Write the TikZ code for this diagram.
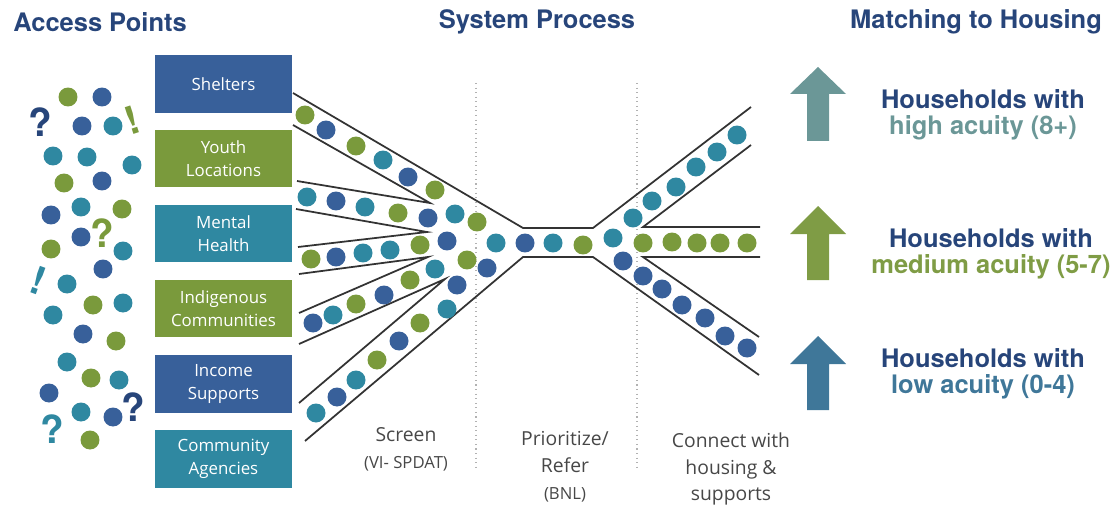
\documentclass[tikz,border=0pt]{standalone}
\usepackage{fontspec}
\setmainfont{Open Sans}
\newfontfamily\headfont{TeX Gyre Heros}
\usetikzlibrary{calc}
\definecolor{apblue}{HTML}{38609A}
\definecolor{apgreen}{HTML}{7A9A3C}
\definecolor{apteal}{HTML}{2F88A1}
\definecolor{apnavy}{HTML}{27457A}
\definecolor{highcol}{HTML}{6B9797}
\definecolor{medcol}{HTML}{7F9C45}
\definecolor{lowcol}{HTML}{3F7799}
\definecolor{lblgray}{HTML}{474747}
\def\ball[#1](#2){\fill[#1] (#2) circle[radius=0.19cm];}
\tikzset{
  accessbox/.style={minimum width=2.74cm, minimum height=1.16cm, inner sep=0pt, align=center, text=white, font=\fontsize{9.6}{13}\selectfont},
  head/.style={font=\headfont\bfseries\fontsize{14.5}{15}\selectfont, text=apnavy, inner sep=0pt},
  qmark/.style={font=\headfont\bfseries\fontsize{22}{22}\selectfont, inner sep=0pt},
  pipe/.style={draw=black!80, line width=1pt},
  stagelbl/.style={align=center, text=lblgray, font=\fontsize{11}{15.3}\selectfont, inner sep=0pt},
  outlbl/.style={align=center, font=\headfont\bfseries\fontsize{14.5}{15}\selectfont, inner sep=0pt}
}
\begin{document}
\begin{tikzpicture}[x=0.02cm, y=-0.02cm]
			%%%%% START %%%%%
			\useasboundingbox (0, 0) rectangle (1119, 510);
			
			\node[head] (access) at (100, 22) {Access Points};
			\node[head] (process) at (537, 22) {System Process};
			\node[head] (matching) at (976, 22) {Matching to Housing};
			
			% people waiting
			\ball[apgreen](68, 97) \ball[apblue](102, 97)
			\ball[apblue](82, 126) \ball[apteal](113, 126)
			\ball[apteal](53, 156) \ball[apteal](87, 157) \ball[apteal](132, 165)
			\ball[apgreen](64, 183) \ball[apblue](102, 181)
			\ball[apblue](51, 215) \ball[apteal](81, 207) \ball[apgreen](122, 209)
			\ball[apblue](81, 237) \ball[apgreen](51, 249) \ball[apteal](123, 251)
			\ball[apblue](103, 269) \ball[apteal](67, 284)
			\ball[apgreen](93, 305) \ball[apteal](123, 303) \ball[apteal](53, 315)
			\ball[apblue](83, 334) \ball[apgreen](116, 341)
			\ball[apteal](67, 362) \ball[apgreen](91, 378) \ball[apteal](119, 380)
			\ball[apblue](49, 393) \ball[apteal](81, 412) \ball[apblue](113, 417)
			\ball[apgreen](90, 440)
			
			\node[qmark, text=apnavy] (q1) at (40, 122) {?};
			\node[qmark, text=apgreen, rotate=18] (e1) at (132, 120) {!};
			\node[qmark, text=apgreen] (q2) at (102, 233) {?};
			\node[qmark, text=apteal, rotate=-20] (e2) at (38, 281) {!};
			\node[qmark, text=apnavy] (q3) at (133, 407) {?};
			\node[qmark, text=apteal] (q4) at (52, 429) {?};
			
			% access points
			\node[accessbox, fill=apblue] (shelters) at (223.5, 84) {Shelters};
			\node[accessbox, fill=apgreen] (youth) at (223.5, 158.5) {Youth\\Locations};
			\node[accessbox, fill=apteal] (mental) at (223.5, 233.5) {Mental\\Health};
			\node[accessbox, fill=apgreen] (indigenous) at (223.5, 308.5) {Indigenous\\Communities};
			\node[accessbox, fill=apblue] (income) at (223.5, 384) {Income\\Supports};
			\node[accessbox, fill=apteal] (agencies) at (223.5, 459) {Community\\Agencies};
			
			% stage dividers
			\draw[black!30, dotted, line width=0.6pt] (476, 83) -- (476, 467);
			\draw[black!30, dotted, line width=0.6pt] (637, 83) -- (637, 467);
			
			% funnel
			\draw[pipe] (293, 93) -- (523, 228) -- (593, 228) -- (751, 107);
			\draw[pipe] (293, 125) -- (430, 203) -- (297, 181);
			\draw[pipe] (296, 209) -- (427, 232) -- (298, 247);
			\draw[pipe] (299, 274) -- (428, 257) -- (299, 313);
			\draw[pipe] (299, 344) -- (445, 279) -- (299, 403);
			\draw[pipe] (305, 441) -- (523, 257) -- (593, 257) -- (759, 375);
			\draw[pipe] (751, 145) -- (643, 227) -- (760, 227);
			\draw[pipe] (760, 257) -- (643, 257) -- (759, 337);
			
			\ball[apgreen](305, 115) \ball[apblue](326, 130) \ball[apgreen](356, 146)
			\ball[apteal](383, 160) \ball[apblue](408, 177) \ball[apgreen](435, 190)
			
			\ball[apteal](307, 197) \ball[apblue](336, 201) \ball[apteal](365, 207)
			\ball[apgreen](398, 213) \ball[apblue](428, 218)
			
			\ball[apgreen](311, 259) \ball[apblue](336, 257) \ball[apteal](363, 253)
			\ball[apteal](390, 250) \ball[apgreen](420, 245) \ball[apblue](447, 241)
			
			\ball[apblue](313, 323) \ball[apteal](333, 315) \ball[apgreen](356, 304)
			\ball[apblue](384, 295) \ball[apgreen](410, 280) \ball[apteal](435, 269)
			
			\ball[apteal](316, 413) \ball[apblue](337, 397) \ball[apteal](356, 380)
			\ball[apgreen](377, 360) \ball[apblue](399, 341) \ball[apgreen](420, 323)
			\ball[apteal](447, 309) \ball[apblue](457, 285)
			
			\ball[apteal](455, 214) \ball[apgreen](477, 222) \ball[apgreen](467, 260)
			\ball[apblue](487, 268) \ball[apteal](496, 243) \ball[apblue](525, 243)
			\ball[apteal](553, 243) \ball[apgreen](583, 245)
			
			\ball[apteal](613, 238) \ball[apteal](633, 218) \ball[apteal](652, 201)
			\ball[apteal](676, 187) \ball[apteal](696, 167) \ball[apteal](717, 152)
			\ball[apteal](737, 135)
			
			\ball[apgreen](643, 243) \ball[apgreen](672, 242) \ball[apgreen](697, 243)
			\ball[apgreen](720, 243) \ball[apgreen](747, 243)
			
			\ball[apblue](623, 261) \ball[apblue](643, 276) \ball[apblue](662, 289)
			\ball[apblue](682, 305) \ball[apblue](705, 318) \ball[apblue](725, 336)
			\ball[apblue](747, 348)
			
			% stage labels
			\node[stagelbl] (screen) at (406, 449) {Screen\\\fontsize{9.5}{13}\selectfont (VI- SPDAT)};
			\node[stagelbl] (prioritize) at (565, 467) {Prioritize/\\Refer\\\fontsize{9.5}{13}\selectfont (BNL)};
			\node[stagelbl] (connect) at (731, 469) {Connect with\\housing \&\\supports};
			
			% outcomes
			\fill[highcol] (818, 67) -- (846, 94) -- (829, 94) -- (829, 141) -- (807, 141) -- (807, 94) -- (790, 94) -- cycle;
			\fill[medcol] (818, 206) -- (846, 234) -- (829, 234) -- (829, 280) -- (807, 280) -- (807, 234) -- (790, 234) -- cycle;
			\fill[lowcol] (818, 336) -- (846, 364) -- (829, 364) -- (829, 410) -- (807, 410) -- (807, 364) -- (790, 364) -- cycle;
			
			\node[outlbl] (high) at (983, 114.5) {\textcolor{apnavy}{Households with}\\\textcolor{highcol}{high acuity (8+)}};
			\node[outlbl] (medium) at (991, 253.5) {\textcolor{apnavy}{Households with}\\\textcolor{medcol}{medium acuity (5-7)}};
			\node[outlbl] (low) at (983, 373.5) {\textcolor{apnavy}{Households with}\\\textcolor{lowcol}{low acuity (0-4)}};
			
			%%%%% END %%%%%
		\end{tikzpicture}
\end{document}
